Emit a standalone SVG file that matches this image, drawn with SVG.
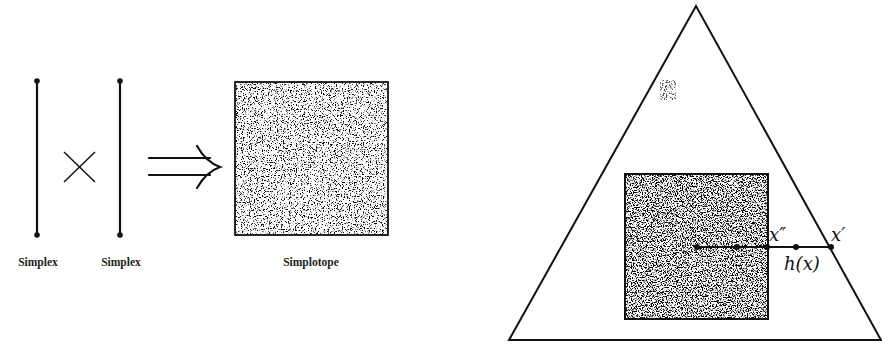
<svg xmlns="http://www.w3.org/2000/svg" width="882" height="346" viewBox="0 0 882 346">
<style>
.ln{stroke:#111;stroke-width:2.2;fill:none;stroke-linecap:round}
.thin{stroke:#111;stroke-width:1.5;fill:none}
.lbl{font-family:"Liberation Serif",serif;font-size:11.5px;font-weight:bold;fill:#222;text-anchor:middle}
.math{font-family:"DejaVu Serif","Liberation Serif",serif;font-style:italic;font-size:18px;fill:#111}
.dot{fill:#111}
</style>
<defs>
<filter id="speckLight" x="0" y="0" width="100%" height="100%">
<feTurbulence type="fractalNoise" baseFrequency="0.85" numOctaves="2" seed="4"/>
<feColorMatrix type="matrix" values="0 0 0 0 0  0 0 0 0 0  0 0 0 0 0  -8 0 0 0 3.6"/>
<feComposite in2="SourceGraphic" operator="in"/>
</filter>
<filter id="speckDark" x="0" y="0" width="100%" height="100%">
<feTurbulence type="fractalNoise" baseFrequency="0.8" numOctaves="2" seed="7"/>
<feColorMatrix type="matrix" values="0 0 0 0 0  0 0 0 0 0  0 0 0 0 0  -8 0 0 0 4.15"/>
<feComposite in2="SourceGraphic" operator="in"/>
</filter>
<filter id="smudge" x="0" y="0" width="100%" height="100%">
<feTurbulence type="fractalNoise" baseFrequency="0.9" numOctaves="2" seed="2"/>
<feColorMatrix type="matrix" values="0 0 0 0 0  0 0 0 0 0  0 0 0 0 0  -8 0 0 0 3.8"/>
<feComposite in2="SourceGraphic" operator="in"/>
</filter>
</defs>
<rect width="882" height="346" fill="#fff"/>

<g id="simplex1">
<line class="ln" x1="37" y1="81" x2="37" y2="235"/>
<circle class="dot" cx="37" cy="81" r="2.8"/>
<circle class="dot" cx="37" cy="235" r="2.8"/>
<text class="lbl" x="38" y="266">Simplex</text>
</g>
<g id="times">
<line class="thin" x1="64" y1="152" x2="95" y2="182"/>
<line class="thin" x1="95" y1="152" x2="64" y2="182"/>
</g>
<g id="simplex2">
<line class="ln" x1="120" y1="81" x2="120" y2="235"/>
<circle class="dot" cx="120" cy="81" r="2.8"/>
<circle class="dot" cx="120" cy="235" r="2.8"/>
<text class="lbl" x="121" y="266">Simplex</text>
</g>
<g id="implies">
<line class="ln" x1="149" y1="158" x2="210" y2="158"/>
<line class="ln" x1="149" y1="175" x2="210" y2="175"/>
<path class="ln" d="M197 146 Q206 162 220 167 Q206 172 197 188" stroke-width="2"/>
</g>
<g id="simplotope">
<rect x="235" y="82" width="153" height="153" fill="#fff"/>
<rect x="235" y="82" width="153" height="153" fill="#fff" filter="url(#speckLight)"/>
<rect x="235" y="82" width="153" height="153" fill="none" stroke="#111" stroke-width="1.8"/>
<text class="lbl" x="311" y="266">Simplotope</text>
</g>

<g id="triangle">
<polygon points="696,6 509,340 881,340" fill="none" stroke="#111" stroke-width="2"/>
<rect x="660" y="80" width="16" height="20" fill="#fff" filter="url(#smudge)" opacity="0.7"/>
</g>
<g id="inner-square">
<rect x="625" y="174" width="143" height="145" fill="#fff"/>
<rect x="625" y="174" width="143" height="145" fill="#fff" filter="url(#speckDark)"/>
<rect x="625" y="174" width="143" height="145" fill="none" stroke="#111" stroke-width="2"/>
</g>
<g id="connectors">
<line class="ln" x1="697" y1="247" x2="831" y2="247" stroke-width="2"/>
</g>
<g id="points">
<circle class="dot" cx="697" cy="247" r="3"/>
<circle class="dot" cx="737" cy="247" r="3"/>
<circle class="dot" cx="767" cy="247" r="3"/>
<circle class="dot" cx="796" cy="247" r="3"/>
<circle class="dot" cx="831" cy="247" r="3"/>
<text class="math" x="769" y="241">x″</text>
<text class="math" x="831" y="241">x′</text>
<text class="math" x="784" y="270" font-style="normal"><tspan font-style="italic">h</tspan>(<tspan font-style="italic">x</tspan>)</text>
</g>
</svg>
